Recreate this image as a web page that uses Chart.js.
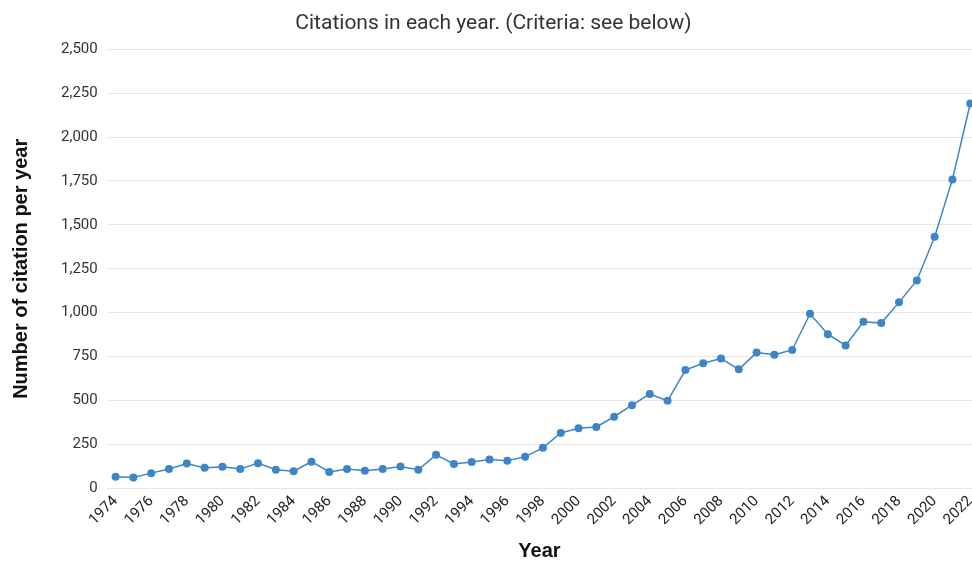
<!DOCTYPE html>
<html>
<head>
<meta charset="utf-8">
<script src="https://cdn.jsdelivr.net/npm/chart.js@4/dist/chart.umd.min.js"></script>
<style>
  html, body { margin: 0; padding: 0; background: #fff; overflow: hidden; }
  #box { width: 987px; height: 563px; }
</style>
</head>
<body>
<div id="box"><canvas id="citeChart"></canvas></div>
<script>
// values
const years = [1974, 1975, 1976, 1977, 1978, 1979, 1980, 1981, 1982, 1983,
  1984, 1985, 1986, 1987, 1988, 1989, 1990, 1991, 1992, 1993,
  1994, 1995, 1996, 1997, 1998, 1999, 2000, 2001, 2002, 2003,
  2004, 2005, 2006, 2007, 2008, 2009, 2010, 2011, 2012, 2013,
  2014, 2015, 2016, 2017, 2018, 2019, 2020, 2021, 2022];
const citations = [67, 62, 87, 111, 142, 117, 123, 110, 144, 106,
  98, 152, 94, 111, 100, 111, 125, 107, 191, 139,
  151, 164, 158, 181, 231, 316, 342, 350, 408, 474,
  537, 499, 674, 712, 739, 678, 773, 761, 788, 994,
  878, 814, 949, 941, 1059, 1184, 1432, 1759, 2191];
const yearTicks = [1974, 1976, 1978, 1980, 1982, 1984, 1986, 1988, 1990, 1992,
  1994, 1996, 1998, 2000, 2002, 2004, 2006, 2008, 2010, 2012,
  2014, 2016, 2018, 2020, 2022];

const punti = years.map((y, i) => ({ x: y, y: citations[i] }));
const blu = '#3d85c6';

new Chart(document.getElementById('citeChart').getContext('2d'), {
  type: 'line',
  data: {
    datasets: [{
      label: 'Citations',
      data: punti,
      borderColor: blu,
      backgroundColor: blu,
      borderWidth: 1.5,
      pointRadius: 4,
      pointBorderWidth: 0,
      pointBackgroundColor: blu,
      tension: 0
    }]
  },
  options: {
    responsive: true,
    maintainAspectRatio: false,
    animation: false,
    layout: { padding: 0 },
    plugins: {
      legend: { display: false },
      tooltip: { enabled: false },
      title: {
        display: true,
        text: 'Citations in each year. (Criteria: see below)',
        color: '#333',
        font: { family: 'Roboto', size: 21, weight: 'normal' },
        padding: { top: 11, bottom: 13 }
      }
    },
    scales: {
      x: {
        type: 'linear',
        min: 1973.5,
        max: 2022.11,
        afterBuildTicks: function (scale) {
          scale.ticks = yearTicks.map(v => ({ value: v }));
        },
        grid: { display: false, drawTicks: false },
        border: { display: false },
        ticks: {
          autoSkip: false,
          minRotation: 45,
          maxRotation: 45,
          padding: 4,
          color: '#222',
          font: { family: 'Roboto', size: 15 },
          callback: v => String(v)
        },
        title: {
          display: true,
          text: 'Year',
          color: '#111',
          font: { family: 'Liberation Sans', size: 20, weight: 'bold' },
          padding: { top: 6, bottom: 0 }
        }
      },
      y: {
        min: 0,
        max: 2500,
        grid: { color: '#e6e6e6', lineWidth: 1, drawTicks: false },
        border: { display: false },
        ticks: {
          stepSize: 250,
          padding: 9,
          color: '#333',
          font: { family: 'Roboto', size: 15 },
          callback: v => v.toLocaleString('en-US')
        },
        title: {
          display: true,
          text: 'Number of citation per year',
          color: '#111',
          font: { family: 'Liberation Sans', size: 20, weight: 'bold' },
          padding: { top: 9, bottom: 19 }
        }
      }
    }
  }
});
</script>
</body>
</html>
